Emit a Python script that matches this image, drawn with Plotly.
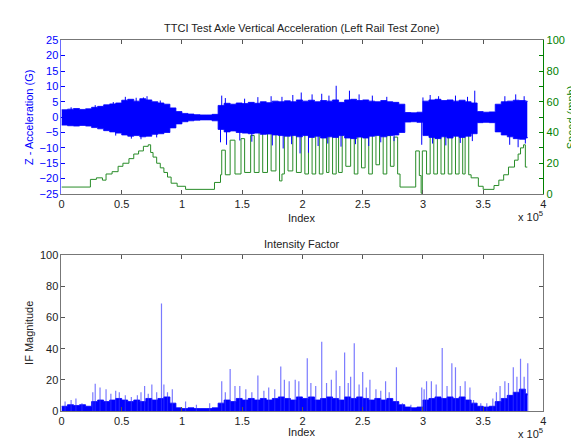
import plotly.graph_objects as go

# ---------------- data (index in units of 1e5) ----------------
# acceleration envelope sampled every 0.05e5 (G)
acc_idx = [round(i * 0.05, 2) for i in range(78)] + [3.866]
acc_upper = [2.4, 2.6, 2.8, 2.5, 2.7, 3.2, 3.5, 4.0, 4.3, 4.6, 5.5, 5.8, 5.2, 6.0, 5.6, 5.0, 4.6, 4.2, 3.0, 1.8,
             1.2, 1.0, 0.8, 0.7, 0.7, 0.9, 3.8, 4.5, 4.2, 4.6, 4.4, 4.8, 4.5, 5.0, 4.7, 5.2, 5.0, 5.3, 5.0, 5.6,
             5.2, 5.5, 5.0, 5.4, 5.2, 5.6, 4.8, 5.6, 5.8, 5.4, 5.6, 5.2, 5.0, 5.4, 5.0, 4.8, 4.2, 1.5, 1.4, 1.6,
             5.2, 5.6, 5.8, 5.4, 5.6, 5.2, 5.5, 5.0, 4.6, 1.8, 1.6, 1.7, 4.2, 5.0, 5.2, 5.5, 5.4, 5.2, 5.0]
acc_lower = [-2.6, -2.8, -2.9, -2.7, -2.9, -3.4, -3.8, -4.4, -4.8, -5.2, -5.8, -6.2, -6.0, -6.4, -6.2, -5.6, -5.4, -5.0, -3.5, -2.2,
             -1.5, -1.2, -1.0, -0.9, -0.9, -1.2, -4.0, -4.8, -4.5, -5.0, -5.2, -5.4, -5.2, -5.6, -5.5, -5.8, -6.0, -6.2, -6.0, -6.4,
             -6.0, -6.6, -6.2, -6.8, -6.4, -6.6, -6.0, -6.8, -7.0, -6.5, -6.8, -6.2, -6.0, -6.4, -6.0, -5.8, -5.0, -1.6, -1.5, -1.7,
             -6.0, -6.6, -7.0, -6.4, -6.8, -6.2, -6.6, -6.2, -5.4, -1.8, -1.7, -1.8, -4.8, -5.8, -6.4, -7.0, -7.2, -6.8, -6.5]
acc_spike_idx = [0.08, 0.28, 0.43, 0.53, 0.62, 0.68, 0.71, 0.82, 1.33, 1.36, 1.52, 1.63, 1.74, 1.83, 1.92, 1.99, 2.08,
                 2.16, 2.22, 2.28, 2.39, 2.47, 2.58, 2.70, 3.00, 3.06, 3.13, 3.27, 3.37, 3.43, 3.68, 3.77, 3.84,
                 0.45, 0.58, 0.66, 0.79, 1.32, 1.37, 1.48, 1.58, 1.75, 1.84, 1.91, 1.98, 2.05, 2.13, 2.21, 2.32,
                 2.44, 2.55, 2.65, 2.76, 2.99, 3.08, 3.19, 3.31, 3.41, 3.72, 3.79, 3.85]
acc_spike_val = [3.2, 3.9, 4.9, 6.6, 6.3, 6.4, 6.8, 5.4, 7.0, 6.2, 6.0, 6.5, 6.8, 6.6, 7.2, 8.0, 7.4,
                 7.6, 7.0, 10.2, 8.6, 7.4, 7.0, 6.6, 6.4, 7.2, 6.8, 7.0, 6.6, 8.6, 6.8, 7.4, 6.8,
                 -6.0, -7.0, -7.2, -6.6, -8.2, -9.0, -7.6, -8.0, -9.2, -10.2, -8.8, -11.8, -11.6, -9.4, -8.6, -9.6,
                 -8.8, -9.4, -8.2, -7.8, -9.0, -8.6, -9.2, -8.4, -7.8, -9.0, -9.8, -8.6]

# speed steps (start index e5, mph)
spd_idx = [0.0, 0.24, 0.29, 0.34, 0.37, 0.42, 0.47, 0.51, 0.56, 0.60, 0.64, 0.68, 0.72, 0.74, 0.76, 0.79, 0.82, 0.85,
           0.88, 0.91, 0.96, 1.03, 1.27, 1.32, 1.33, 1.36, 1.40, 1.44, 1.49, 1.52, 1.57, 1.60, 1.64, 1.67, 1.71, 1.74,
           1.78, 1.81, 1.83, 1.85, 1.88, 1.92, 1.95, 1.99, 2.02, 2.05, 2.08, 2.11, 2.14, 2.17, 2.20, 2.22, 2.25, 2.28,
           2.30, 2.33, 2.36, 2.40, 2.43, 2.46, 2.49, 2.52, 2.55, 2.58, 2.61, 2.64, 2.67, 2.70, 2.73, 2.76, 2.79, 2.81,
           2.94, 2.97, 2.985, 2.995, 3.03, 3.06, 3.09, 3.12, 3.15, 3.18, 3.21, 3.24, 3.27, 3.30, 3.33, 3.35, 3.38, 3.40,
           3.46, 3.50, 3.59, 3.63, 3.67, 3.71, 3.76, 3.79, 3.81, 3.835, 3.85, 3.866]
spd_mph = [4.5, 9.5, 10.5, 9, 13, 14.5, 18, 20, 23, 26, 28, 31, 32, 27, 24, 20, 17, 14,
           11, 7, 5, 3, 7.5, 12.5, 28.5, 12.5, 35, 13, 36, 14, 38, 14, 40, 14, 41, 15,
           42, 8.5, 13, 44, 15, 46, 14, 49, 13, 49, 13, 53, 13, 55, 14, 58, 13, 58,
           14, 50, 18, 48, 13, 46, 17, 44, 13, 43, 19, 40, 13, 38, 18, 37, 13, 4.5,
           28, 12, 0.5, 28, 13, 40, 13, 45, 13, 52, 13, 52, 13, 54, 13, 54, 12.5, 10.5,
           5, 3, 5.5, 9, 12.5, 17.5, 22, 26, 30, 32, 17.5, 17.5]

# intensity factor: dense base level every 0.05e5, plus spikes
if_base = [3, 4, 3.5, 4, 3, 6, 7, 6, 7, 8, 7, 6, 7, 6, 8, 7, 8, 9, 5, 2,
           1.5, 2, 1.5, 1.5, 1.5, 2, 5, 7, 6, 8, 7, 8, 7, 8, 7, 8, 9, 8, 7, 9,
           8, 9, 7, 8, 9, 8, 7, 9, 8, 9, 8, 7, 8, 7, 8, 6, 4, 2.5, 2, 2.5,
           7, 8, 9, 8, 9, 8, 9, 7, 5, 3, 2.5, 3, 6, 8, 10, 12, 14, 11, 10]
if_spike_idx = [0.03, 0.08, 0.12, 0.17, 0.26, 0.28, 0.32, 0.37, 0.41, 0.45, 0.48, 0.53, 0.58, 0.63, 0.66, 0.69, 0.72,
                0.75, 0.79, 0.83, 0.85, 0.88, 0.92, 1.03, 1.12, 1.23, 1.33, 1.36, 1.40, 1.44, 1.48, 1.53, 1.58, 1.63,
                1.68, 1.72, 1.77, 1.82, 1.85, 1.89, 1.94, 1.97, 2.04, 2.07, 2.11, 2.16, 2.20, 2.24, 2.28, 2.31, 2.35,
                2.38, 2.40, 2.43, 2.47, 2.50, 2.53, 2.56, 2.61, 2.65, 2.69, 2.72, 2.78, 2.83, 2.90, 2.99, 3.01, 3.03,
                3.07, 3.11, 3.16, 3.20, 3.24, 3.27, 3.31, 3.35, 3.39, 3.42, 3.48, 3.53, 3.58, 3.61, 3.64, 3.68, 3.71,
                3.75, 3.78, 3.81, 3.84, 3.87]
if_spike_val = [6, 7, 8, 5, 12, 17.5, 15, 14, 11, 13, 12, 10, 9, 10, 12, 16, 11,
                17, 12, 69, 17, 12, 14, 6, 4, 5, 19, 12, 27, 16, 16, 14, 12, 22.7,
                13, 15, 14, 28.6, 20, 19, 20, 19, 33.9, 18, 16, 44.5, 18, 20, 26, 16, 37.5,
                18, 22, 43.5, 17, 25, 15, 20, 14, 13, 19, 12, 28, 5, 4, 15, 14, 19,
                19, 17, 40.5, 16, 30.6, 28, 16, 19, 15, 7, 5, 5, 8, 12, 16, 19, 18,
                28, 22, 33.5, 22, 30.6]

x_tick_vals = [0, 0.5, 1, 1.5, 2, 2.5, 3, 3.5, 4]
x_tick_text = ['0', '0.5', '1', '1.5', '2', '2.5', '3', '3.5', '4']

# ---------------- figure ----------------
SCALE = 1e5
BLUE = '#0000FF'
GREEN = '#008000'
FONT = 'Liberation Sans, Arial, sans-serif'

def vlines(xs, ys, base=0.0):
    X, Y = [], []
    for a, b in zip(xs, ys):
        X += [a * SCALE, a * SCALE, None]
        Y += [base, b, None]
    return X, Y

fig = go.Figure()

# speed (underneath)
fig.add_trace(go.Scatter(x=[v * SCALE for v in spd_idx], y=spd_mph, mode='lines', line_shape='hv',
                         line=dict(color='rgb(40,140,40)', width=1), xaxis='x', yaxis='y', hoverinfo='skip'))

# acceleration band
ax = [v * SCALE for v in acc_idx]
fig.add_trace(go.Scatter(x=ax, y=acc_upper, mode='lines', line_shape='hv', line=dict(color=BLUE, width=0.8),
                         xaxis='x', yaxis='y2', hoverinfo='skip'))
fig.add_trace(go.Scatter(x=ax, y=acc_lower, mode='lines', line_shape='hv', line=dict(color=BLUE, width=0.8),
                         fill='tonexty', fillcolor=BLUE, xaxis='x', yaxis='y2', hoverinfo='skip'))
sx, sy = vlines(acc_spike_idx, acc_spike_val)
fig.add_trace(go.Scatter(x=sx, y=sy, mode='lines', line=dict(color=BLUE, width=1),
                         xaxis='x', yaxis='y2', hoverinfo='skip'))

# intensity factor
fig.add_trace(go.Scatter(x=ax, y=if_base, mode='lines', line_shape='hv', line=dict(color=BLUE, width=0.8),
                         fill='tozeroy', fillcolor=BLUE, xaxis='x2', yaxis='y3', hoverinfo='skip'))
ix, iy = vlines(if_spike_idx, if_spike_val)
fig.add_trace(go.Scatter(x=ix, y=iy, mode='lines', line=dict(color='rgba(50,50,255,0.65)', width=1.2),
                         xaxis='x2', yaxis='y3', hoverinfo='skip'))

W, H = 579, 442
xl, xr = 51 / W, 538 / W
top_dom = [1 - 185 / H, 1 - 27 / H]
bot_dom = [1 - 408 / H, 1 - 248 / H]

xcommon = dict(range=[0, 4e5], tickvals=[v * SCALE for v in x_tick_vals], ticktext=x_tick_text,
               ticks='inside', ticklen=4, tickcolor='#555', showline=True, linecolor='#777', linewidth=1,
               mirror='ticks', showgrid=False, zeroline=False, domain=[xl, xr],
               tickfont=dict(family=FONT, size=11, color='#222'))

fig.update_layout(
    width=W, height=H, margin=dict(l=0, r=0, t=0, b=0),
    paper_bgcolor='white', plot_bgcolor='white', showlegend=False,
    font=dict(family=FONT, size=11, color='#222'),
    xaxis=dict(anchor='y', **xcommon),
    xaxis2=dict(anchor='y3', **xcommon),
    yaxis=dict(domain=top_dom, range=[0, 100], side='right', anchor='x', tickvals=[0, 20, 40, 60, 80, 100],
               ticks='inside', ticklen=4, tickcolor=GREEN, showline=True, linecolor=GREEN, linewidth=1,
               showgrid=False, zeroline=False, tickfont=dict(family=FONT, size=11, color=GREEN),
               minor=dict(ticks='inside', ticklen=4, dtick=10, tickcolor=GREEN)),
    yaxis2=dict(overlaying='y', side='left', anchor='x', range=[-25, 25], dtick=5, tick0=0,
                ticks='inside', ticklen=4, tickcolor=BLUE, showline=True, linecolor='#6a6aff', linewidth=1,
                showgrid=False, zeroline=False, tickfont=dict(family=FONT, size=11, color=BLUE)),
    yaxis3=dict(domain=bot_dom, range=[0, 100], dtick=20, anchor='x2', ticks='inside', ticklen=4,
                tickcolor='#555', showline=True, linecolor='#777', linewidth=1, mirror='ticks',
                showgrid=False, zeroline=False, tickfont=dict(family=FONT, size=11, color='#222')),
)

def ann(text, x, y, color='#222', size=11, angle=0, xanchor='center', yanchor='middle'):
    fig.add_annotation(text=text, x=x, y=y, xref='paper', yref='paper', showarrow=False,
                       textangle=angle, xanchor=xanchor, yanchor=yanchor,
                       font=dict(family=FONT, size=size, color=color))

ann('TTCI Test Axle Vertical Acceleration (Left Rail Test Zone)', 294 / W, 1 - 14 / H)
ann('Intensity Factor', 294 / W, 1 - 236 / H)
ann('Index', 294 / W, 1 - 210 / H)
ann('Index', 294 / W, 1 - 430 / H)
ann('x 10<sup>5</sup>', 540 / W, 1 - 208 / H, xanchor='right')
ann('x 10<sup>5</sup>', 540 / W, 1 - 431 / H, xanchor='right')
ann('Z - Acceleration (G)', 18 / W, 1 - 106 / H, color=BLUE, angle=-90)
ann('Speed (mph)', 566 / W, 1 - 106 / H, color=GREEN, angle=-90)
ann('IF Magnitude', 18 / W, 1 - 328 / H, angle=-90)

fig.write_html('out.html')
